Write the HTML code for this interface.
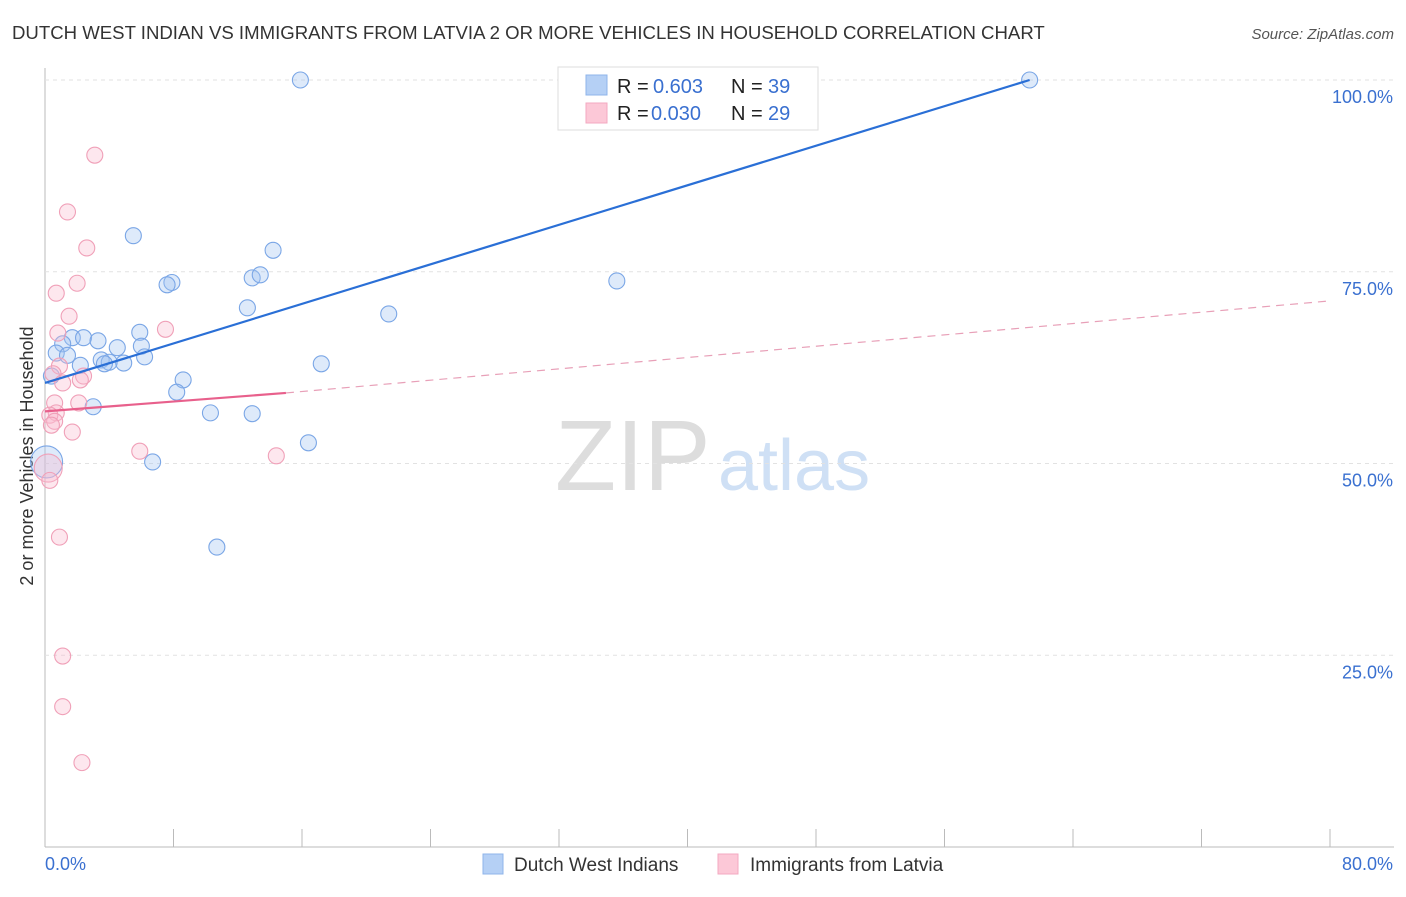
<!DOCTYPE html>
<html><head><meta charset="utf-8"><style>
body{margin:0;background:#fff;font-family:"Liberation Sans",sans-serif}
svg text{font-family:"Liberation Sans",sans-serif}
</style></head><body>
<svg id="chart" width="1406" height="892" xmlns="http://www.w3.org/2000/svg">
<text x="12" y="39" font-size="18.6" fill="#333">DUTCH WEST INDIAN VS IMMIGRANTS FROM LATVIA 2 OR MORE VEHICLES IN HOUSEHOLD CORRELATION CHART</text>
<text x="1394" y="39" font-size="15" fill="#555" text-anchor="end" font-style="italic">Source: ZipAtlas.com</text>
<text x="555" y="490" font-size="100" fill="#ddd" font-family="Liberation Serif">ZIP</text>
<text x="718" y="490" font-size="72" fill="#cfe0f5">atlas</text>
<text transform="translate(33,456) rotate(-90)" font-size="18" fill="#333" text-anchor="middle">2 or more Vehicles in Household</text>
<g id="grid"></g><g id="pts"></g><g id="lines"></g>
<g>
<rect x="558" y="67" width="260" height="63" fill="#fff" stroke="#ddd"/>
<rect x="586" y="75" width="21" height="20" fill="#b5d0f5" stroke="#8fb4ea"/>
<rect x="586" y="103" width="21" height="20" fill="#fcc8d7" stroke="#f3a9c0"/>
<text x="617" y="93" font-size="20" fill="#222">R =</text>
<text x="653" y="93" font-size="20" fill="#3a70d0">0.603</text>
<text x="731" y="93" font-size="20" fill="#222">N =</text>
<text x="768" y="93" font-size="20" fill="#3a70d0">39</text>
<text x="617" y="120" font-size="20" fill="#222">R =</text>
<text x="651" y="120" font-size="20" fill="#3a70d0">0.030</text>
<text x="731" y="120" font-size="20" fill="#222">N =</text>
<text x="768" y="120" font-size="20" fill="#3a70d0">29</text>
</g>
<g>
<rect x="483" y="854" width="20" height="20" fill="#b5d0f5" stroke="#8fb4ea"/>
<text x="514" y="871" font-size="19" fill="#333">Dutch West Indians</text>
<rect x="718" y="854" width="20" height="20" fill="#fcc8d7" stroke="#f3a9c0"/>
<text x="750" y="871" font-size="19" fill="#333">Immigrants from Latvia</text>
</g>
</svg>
<script>
const xTicks=[0,8,16,24,32,40,48,56,64,72,80];
const yTicks=[25,50,75,100];
const blueX=[15.9,61.3,34.6,5.5,14.2,7.9,7.6,12.9,13.4,35.6,12.6,21.4,5.9,1.7,2.4,3.3,1.1,6.0,4.5,0.7,1.4,6.2,3.5,4.0,2.2,3.7,4.9,17.2,0.4,8.6,8.2,3.0,10.3,12.9,16.4,6.7,0.1,10.7];
const blueY=[100,100,100,79.7,77.8,73.6,73.3,74.2,74.6,73.8,70.3,69.5,67.1,66.4,66.4,66.0,65.6,65.3,65.1,64.4,64.1,63.9,63.5,63.2,62.8,63.0,63.1,63.0,61.4,60.9,59.3,57.4,56.6,56.5,52.7,50.2,50.2,39.1];
const pinkX=[3.1,1.4,2.6,2.0,0.7,1.5,7.5,0.8,0.9,0.5,2.4,2.2,1.1,2.1,0.6,0.7,0.3,0.6,0.4,1.7,5.9,14.4,0.2,0.3,0.9,1.1,1.1,2.3];
const pinkY=[90.2,82.8,78.1,73.5,72.2,69.2,67.5,67.0,62.7,61.7,61.4,60.9,60.5,57.9,57.9,56.6,56.3,55.5,55.0,54.1,51.6,51.0,49.4,47.8,40.4,24.9,18.3,11.0];
const blueLine=[[0,60.5],[61.3,100]];
const pinkSolid=[[0,56.8],[15,59.2]];
const pinkDash=[[15,59.2],[80,71.2]];
const X=v=>45+v*1285/80, Y=v=>847-v*7.67;
const NS="http://www.w3.org/2000/svg";
function mk(p,t,a){const e=document.createElementNS(NS,t);for(const k in a)e.setAttribute(k,a[k]);p.appendChild(e);return e;}
const g=document.getElementById('grid');
let ax=mk(g,'line',{x1:45,y1:68,x2:45,y2:847,stroke:'#bbb'});


let bx=mk(g,'line',{x1:45,y1:847,x2:1394,y2:847,stroke:'#bbb'});


yTicks.forEach(t=>{const l=mk(g,'line',{x1:45,x2:1394,y1:Y(t),y2:Y(t),stroke:'#e2e2e2','stroke-dasharray':'4,4'});


const tx=mk(g,'text',{x:1393,y:Y(t)+23,'font-size':18,fill:'#3a70d0','text-anchor':'end'});tx.textContent=t.toFixed(1)+'%';

});
xTicks.forEach(t=>{const l=mk(g,'line',{x1:X(t),x2:X(t),y1:829,y2:847,stroke:'#bbb'});

});
[[0,'start',45],[80,'end',1393]].forEach(([t,a,x])=>{const tx=mk(g,'text',{x:x,y:870,'font-size':18,fill:'#3a70d0','text-anchor':a});tx.textContent=t.toFixed(1)+'%';

});
const p=document.getElementById('pts');
blueX.forEach((v,i)=>{const c=mk(p,'circle',{cx:X(v),cy:Y(blueY[i]),r:i==36?16:8,fill:'rgba(160,195,240,0.35)',stroke:'#7aa6e6','stroke-width':1.1});

});
pinkX.forEach((v,i)=>{const c=mk(p,'circle',{cx:X(v),cy:Y(pinkY[i]),r:i==22?14:8,fill:'rgba(250,185,205,0.35)',stroke:'#f0a0b8','stroke-width':1.1});

});
const L=document.getElementById('lines');
function ln(d,c,w,da,n){const e=mk(L,'line',{x1:X(d[0][0]),y1:Y(d[0][1]),x2:X(d[1][0]),y2:Y(d[1][1]),stroke:c,'stroke-width':w});if(da)e.setAttribute('stroke-dasharray',da);

}
ln(blueLine,'#2a6fd6',2.2,null,'trend-line-dutch');
ln(pinkSolid,'#e8608c',2.2,null,'trend-line-latvia');
ln(pinkDash,'#e8a0b8',1.2,'8,6','trend-line-latvia-extended');
</script>
</body></html>
